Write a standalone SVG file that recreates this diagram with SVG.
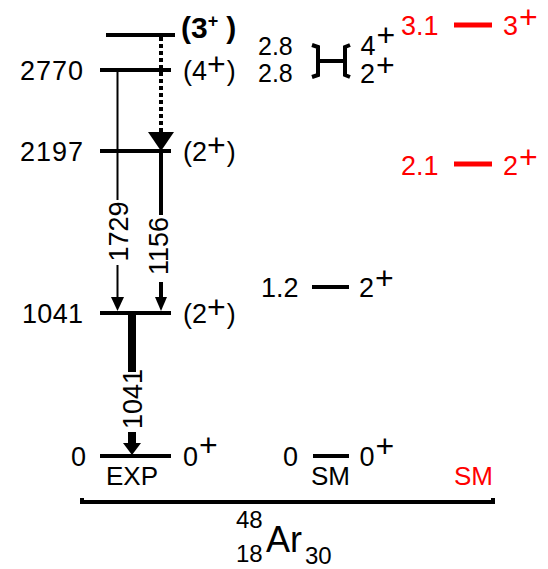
<svg xmlns="http://www.w3.org/2000/svg" width="548" height="569" viewBox="0 0 548 569">
<style>
.t{font-family:"Liberation Sans",Arial,Helvetica,sans-serif;font-size:27px;fill:#000}
.b{font-weight:bold;font-size:30px}
.p{font-size:32px}
.s{font-size:26px}
.red{fill:#f00}
.lvl{stroke:#000;stroke-width:4;fill:none}
.rlvl{stroke:#f00;stroke-width:5;fill:none}
.ln{stroke:#000;fill:none}
</style>
<rect width="548" height="569" fill="#fff"/>
<!-- EXP levels -->
<g id="exp-3plus">
<line class="lvl" x1="106" y1="35" x2="175" y2="35"/>
<text class="t b" x="181" y="38">(3<tspan style="font-size:18px" dy="-11">+</tspan><tspan dy="11" dx="8">)</tspan></text>
</g>
<g id="exp-2770">
<line class="lvl" x1="100" y1="70" x2="171" y2="70"/>
<text class="t" x="20" y="80" textLength="63" lengthAdjust="spacing">2770</text>
<text class="t" x="183" y="80">(4<tspan class="p" dy="-5">+</tspan><tspan dy="5" dx="1">)</tspan></text>
</g>
<g id="exp-2197">
<line class="lvl" x1="100" y1="151" x2="171" y2="151"/>
<text class="t" x="20" y="161" textLength="63" lengthAdjust="spacing">2197</text>
<text class="t" x="183" y="161">(2<tspan class="p" dy="-5">+</tspan><tspan dy="5" dx="1">)</tspan></text>
</g>
<g id="exp-1041">
<line class="lvl" x1="100" y1="313" x2="171" y2="313"/>
<text class="t" x="22" y="323" textLength="61" lengthAdjust="spacing">1041</text>
<text class="t" x="183" y="323">(2<tspan class="p" dy="-5">+</tspan><tspan dy="5" dx="1">)</tspan></text>
</g>
<g id="exp-0">
<line class="lvl" x1="100" y1="456" x2="171" y2="456"/>
<text class="t" x="71" y="466">0</text>
<text class="t" x="183" y="466">0<tspan class="p" dy="-10" dx="1">+</tspan></text>
<text class="t s" x="106" y="485">EXP</text>
</g>
<!-- SM levels (black) -->
<g id="sm-2.8">
<path class="lvl" d="M312,45 L318,47 L318,75 L312,77 M350,45 L345,47 L345,75 L350,77 M318,61 H345"/>
<text class="t" x="258" y="55" style="font-size:25px">2.8</text>
<text class="t" x="258" y="82" style="font-size:25px">2.8</text>
<text class="t" x="360.5" y="55">4<tspan class="p" dy="-9" dx="1">+</tspan></text>
<text class="t" x="360" y="83">2<tspan class="p" dy="-7" dx="1">+</tspan></text>
</g>
<g id="sm-1.2">
<line class="lvl" x1="312" y1="287" x2="349" y2="287"/>
<text class="t" x="261" y="297">1.2</text>
<text class="t" x="359" y="297">2<tspan class="p" dy="-8" dx="1">+</tspan></text>
</g>
<g id="sm-0">
<line class="lvl" x1="313" y1="456" x2="349" y2="456"/>
<text class="t" x="283" y="466">0</text>
<text class="t" x="359.5" y="466">0<tspan class="p" dy="-9" dx="1">+</tspan></text>
<text class="t s" x="311" y="485">SM</text>
</g>
<!-- SM levels (red) -->
<g id="red-3.1">
<line class="rlvl" x1="454" y1="25" x2="492" y2="25"/>
<text class="t red" x="401" y="35">3.1</text>
<text class="t red" x="503" y="35">3<tspan class="p" dy="-7" dx="1">+</tspan></text>
</g>
<g id="red-2.1">
<line class="rlvl" x1="454" y1="164" x2="492" y2="164"/>
<text class="t red" x="401" y="175">2.1</text>
<text class="t red" x="503" y="175">2<tspan class="p" dy="-7" dx="1">+</tspan></text>
</g>
<g id="red-sm">
<text class="t s red" x="454" y="485">SM</text>
</g>
<!-- nucleus bracket and label -->
<g id="nucleus">
<path class="lvl" d="M82,498 V502 H493 V498"/>
<text class="t" x="236" y="528" style="font-size:24px">48</text>
<text class="t" x="236" y="562" style="font-size:24px">18</text>
<text class="t" x="266" y="552" style="font-size:36px">Ar</text>
<text class="t" x="305" y="564" style="font-size:24px">30</text>
</g>
<!-- connectors -->
<g id="connectors">
<line class="ln" stroke-width="2" x1="117.5" y1="70" x2="117.5" y2="200"/>
<line class="ln" stroke-width="2" x1="117.5" y1="265" x2="117.5" y2="298"/>
<polygon points="111,297 124,297 117.5,311"/>
<text class="t" text-anchor="middle" transform="translate(128,231.5) rotate(-90)">1729</text>
<line class="ln" stroke-width="4" stroke-dasharray="4 3" x1="161" y1="37" x2="161" y2="133"/>
<polygon points="148,132 174,132 161,151"/>
<line class="ln" stroke-width="4" x1="161" y1="151" x2="161" y2="215"/>
<line class="ln" stroke-width="4" x1="161" y1="282" x2="161" y2="298"/>
<polygon points="155,297 167,297 161,311"/>
<text class="t" text-anchor="middle" transform="translate(168,246) rotate(-90)">1156</text>
<line class="ln" stroke-width="8" x1="132" y1="313" x2="132" y2="372"/>
<line class="ln" stroke-width="8" x1="132" y1="432" x2="132" y2="444"/>
<polygon points="123,443 141,443 132,455"/>
<text class="t" text-anchor="middle" transform="translate(142,399) rotate(-90)">1041</text>
</g>
</svg>
